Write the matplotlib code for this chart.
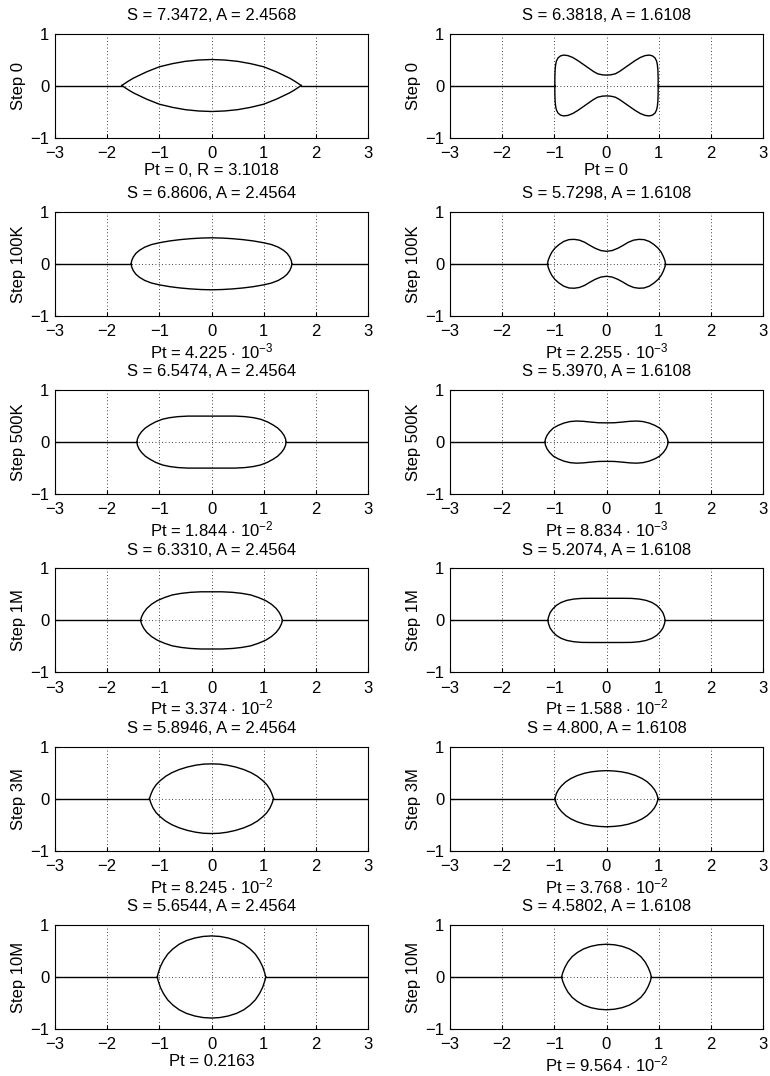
import matplotlib
matplotlib.use("Agg")
import matplotlib.pyplot as plt

plt.rcParams['font.family'] = ['Liberation Sans', 'DejaVu Sans']
plt.rcParams['mathtext.fontset'] = 'custom'
plt.rcParams['mathtext.rm'] = 'Liberation Sans'
plt.rcParams['mathtext.it'] = 'Liberation Sans:italic'
plt.rcParams['mathtext.bf'] = 'Liberation Sans:bold'

steps = ["Step 0", "Step 100K", "Step 500K", "Step 1M", "Step 3M", "Step 10M"]

left_titles = ["S = 7.3472, A = 2.4568", "S = 6.8606, A = 2.4564", "S = 6.5474, A = 2.4564",
               "S = 6.3310, A = 2.4564", "S = 5.8946, A = 2.4564", "S = 5.6544, A = 2.4564"]
right_titles = ["S = 6.3818, A = 1.6108", "S = 5.7298, A = 1.6108", "S = 5.3970, A = 1.6108",
                "S = 5.2074, A = 1.6108", "S = 4.800, A = 1.6108", "S = 4.5802, A = 1.6108"]

left_pt = ["Pt = 0, R = 3.1018",
           r"Pt = 4.225 $\cdot$ $10^{-3}$",
           r"Pt = 1.844 $\cdot$ $10^{-2}$",
           r"Pt = 3.374 $\cdot$ $10^{-2}$",
           r"Pt = 8.245 $\cdot$ $10^{-2}$",
           "Pt = 0.2163"]
right_pt = ["Pt = 0",
            r"Pt = 2.255 $\cdot$ $10^{-3}$",
            r"Pt = 8.834 $\cdot$ $10^{-3}$",
            r"Pt = 1.588 $\cdot$ $10^{-2}$",
            r"Pt = 3.768 $\cdot$ $10^{-2}$",
            r"Pt = 9.564 $\cdot$ $10^{-2}$"]

# half profiles of the shapes, from the centre (x = 0) out to the tip on y = 0;
# the shapes are symmetric left/right and up/down
left_x = [
    [0, 0.25, 0.5, 0.75, 1.0, 1.125, 1.25, 1.375, 1.5, 1.6, 1.72],
    [0, 0.2, 0.4, 0.6, 0.8, 1.0, 1.15, 1.28, 1.38, 1.45, 1.5, 1.53, 1.54],
    [0, 0.25, 0.45, 0.64, 0.8, 0.94, 1.07, 1.18, 1.27, 1.34, 1.39, 1.42, 1.43],
    [0, 0.2, 0.4, 0.58, 0.75, 0.9, 1.04, 1.15, 1.24, 1.3, 1.34, 1.36],
    [0, 0.15, 0.3, 0.46, 0.62, 0.76, 0.88, 0.98, 1.06, 1.12, 1.16, 1.19],
    [0, 0.16, 0.32, 0.48, 0.62, 0.74, 0.84, 0.92, 0.98, 1.02, 1.04],
]
left_y = [
    [0.5, 0.49, 0.465, 0.42, 0.36, 0.31, 0.26, 0.2, 0.14, 0.08, 0],
    [0.5, 0.495, 0.483, 0.465, 0.44, 0.405, 0.37, 0.32, 0.26, 0.2, 0.13, 0.06, 0],
    [0.5, 0.5, 0.5, 0.49, 0.47, 0.44, 0.39, 0.33, 0.27, 0.2, 0.13, 0.06, 0],
    [0.55, 0.55, 0.54, 0.52, 0.49, 0.44, 0.38, 0.31, 0.23, 0.15, 0.07, 0],
    [0.67, 0.665, 0.645, 0.61, 0.56, 0.5, 0.43, 0.35, 0.27, 0.18, 0.09, 0],
    [0.79, 0.78, 0.75, 0.7, 0.63, 0.54, 0.44, 0.32, 0.2, 0.08, 0],
]
right_x = [
    [0, 0.08, 0.17, 0.25, 0.35, 0.45, 0.55, 0.65, 0.74, 0.82, 0.88, 0.93, 0.96, 0.975, 0.985, 0.99, 0.99],
    [0, 0.11, 0.22, 0.32, 0.42, 0.52, 0.62, 0.72, 0.82, 0.91, 0.99, 1.05, 1.09, 1.12, 1.13],
    [0, 0.15, 0.3, 0.45, 0.58, 0.7, 0.82, 0.93, 1.02, 1.09, 1.14, 1.17, 1.18],
    [0, 0.15, 0.3, 0.48, 0.63, 0.76, 0.87, 0.96, 1.03, 1.08, 1.11, 1.125],
    [0, 0.14, 0.28, 0.42, 0.56, 0.68, 0.78, 0.86, 0.92, 0.96, 0.99],
    [0, 0.15, 0.3, 0.44, 0.56, 0.66, 0.74, 0.8, 0.84, 0.86],
]
right_y = [
    [0.2, 0.205, 0.225, 0.27, 0.34, 0.41, 0.48, 0.54, 0.575, 0.585, 0.57, 0.53, 0.47, 0.4, 0.3, 0.15, 0],
    [0.24, 0.255, 0.3, 0.355, 0.415, 0.455, 0.47, 0.465, 0.43, 0.37, 0.3, 0.22, 0.14, 0.06, 0],
    [0.37, 0.372, 0.385, 0.4, 0.405, 0.395, 0.365, 0.32, 0.27, 0.2, 0.13, 0.06, 0],
    [0.425, 0.425, 0.425, 0.423, 0.41, 0.385, 0.345, 0.29, 0.22, 0.15, 0.07, 0],
    [0.54, 0.533, 0.518, 0.49, 0.445, 0.39, 0.325, 0.25, 0.175, 0.1, 0],
    [0.63, 0.62, 0.59, 0.54, 0.47, 0.39, 0.29, 0.18, 0.08, 0],
]


def draw_panel(ax, hx, hy, title, xlabel, ylabel):
    # full upper outline from the left tip to the right tip
    xs = [-v for v in hx[::-1]] + hx[1:]
    ys = hy[::-1] + hy[1:]
    ax.plot(xs, ys, color='black', lw=1.0)
    ax.plot(xs, [-v for v in ys], color='black', lw=1.0)
    # flat line on each side of the shape
    ax.plot([-3, xs[0]], [0, 0], color='black', lw=1.0)
    ax.plot([xs[-1], 3], [0, 0], color='black', lw=1.0)
    ax.set_xlim(-3, 3)
    ax.set_ylim(-1, 1)
    ax.set_xticks([-3, -2, -1, 0, 1, 2, 3])
    ax.set_yticks([-1, 0, 1])
    ax.grid(True, linestyle=(0, (1, 3)), color='black', lw=0.6)
    ax.tick_params(direction='in', length=3, labelsize=12, pad=4)
    ax.tick_params(axis='x', pad=6)
    for s in ax.spines.values():
        s.set_linewidth(0.8)
    ax.set_title(title, fontsize=12, pad=10)
    ax.set_xlabel(xlabel, fontsize=12, labelpad=1.5)
    ax.set_ylabel(ylabel, fontsize=12, labelpad=3)


fig = plt.figure(figsize=(7.7, 10.76), dpi=100)
W, H = 770, 1076
for i in range(6):
    top = 33.5 + i * 178.3
    b = 1 - (top + 104) / H
    axl = fig.add_axes([55 / W, b, 313 / W, 104 / H])
    draw_panel(axl, left_x[i], left_y[i], left_titles[i], left_pt[i], steps[i])
    axr = fig.add_axes([450 / W, b, 313 / W, 104 / H])
    draw_panel(axr, right_x[i], right_y[i], right_titles[i], right_pt[i], steps[i])

fig.savefig("out.png", dpi=100)
